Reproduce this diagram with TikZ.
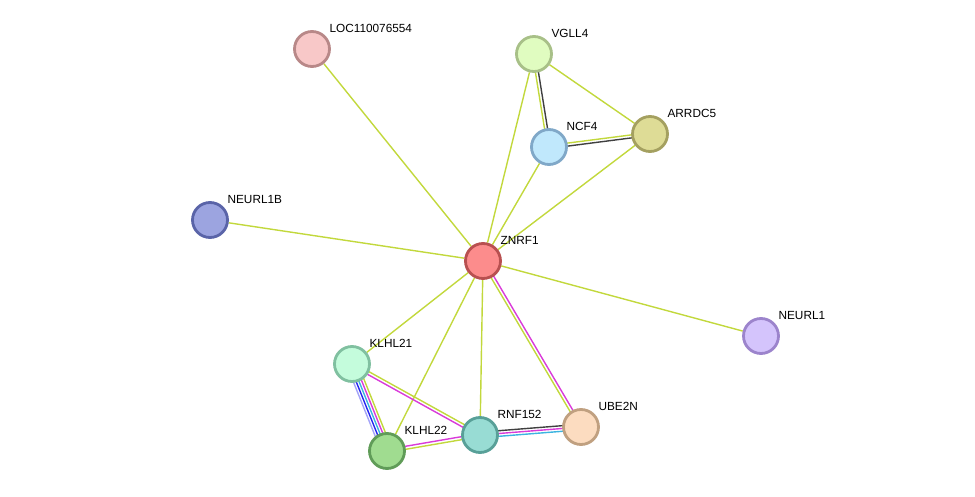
\documentclass[tikz,border=0pt]{standalone}
\usepackage{fontspec}
\setmainfont{Liberation Sans}
\usepackage{tikz}
\usetikzlibrary{calc,backgrounds}
\definecolor{yg}{HTML}{C2D83C}
\definecolor{mg}{HTML}{D93BD9}
\definecolor{bk}{HTML}{404040}
\definecolor{cy}{HTML}{3CB4E0}
\definecolor{bl}{HTML}{2424F0}
\definecolor{lv}{HTML}{A4A4F8}
% node fills and rims
\definecolor{znrfF}{HTML}{FC8C8C}\definecolor{znrfD}{HTML}{B85050}
\definecolor{locF}{HTML}{F8C8C8}\definecolor{locD}{HTML}{B88888}
\definecolor{vgllF}{HTML}{E0FCC0}\definecolor{vgllD}{HTML}{A8C088}
\definecolor{ncfF}{HTML}{C0E8FC}\definecolor{ncfD}{HTML}{80A8C8}
\definecolor{arrF}{HTML}{DEDC96}\definecolor{arrD}{HTML}{A4A060}
\definecolor{nbF}{HTML}{9CA4E0}\definecolor{nbD}{HTML}{5A64A8}
\definecolor{nF}{HTML}{D4C4FC}\definecolor{nD}{HTML}{9C84CC}
\definecolor{k21F}{HTML}{C4FCDC}\definecolor{k21D}{HTML}{80C0A0}
\definecolor{k22F}{HTML}{A0DC90}\definecolor{k22D}{HTML}{609C58}
\definecolor{rnfF}{HTML}{98DCD4}\definecolor{rnfD}{HTML}{58A098}
\definecolor{ubeF}{HTML}{FCDCC0}\definecolor{ubeD}{HTML}{C0A080}

\begin{document}
\begin{tikzpicture}[x=1pt,y=-1pt,
prot/.style={circle, fill=#1F, draw=#1D, line width=2.8pt,
    minimum size=35pt, inner sep=0pt},
plabel/.style={anchor=west, inner sep=0pt, xshift=-1.5pt, yshift=21pt,
    font=\fontsize{11.8}{13}\selectfont},
link/.style={line width=1.4pt}]
\useasboundingbox (0,0) rectangle (975,497);

\node[prot=znrf, label={[plabel]right:ZNRF1}] (znrf1) at (483,261) {};
\node[prot=loc, label={[plabel]right:LOC110076554}] (loc) at (312,49) {};
\node[prot=vgll, label={[plabel]right:VGLL4}] (vgll4) at (534,54) {};
\node[prot=ncf, label={[plabel]right:NCF4}] (ncf4) at (549,147) {};
\node[prot=arr, label={[plabel]right:ARRDC5}] (arrdc5) at (650,134) {};
\node[prot=nb, label={[plabel]right:NEURL1B}] (neurl1b) at (210,220) {};
\node[prot=n, label={[plabel]right:NEURL1}] (neurl1) at (761,336) {};
\node[prot=k21, label={[plabel]right:KLHL21}] (klhl21) at (352,364) {};
\node[prot=k22, label={[plabel]right:KLHL22}] (klhl22) at (387,451) {};
\node[prot=rnf, label={[plabel]right:RNF152}] (rnf152) at (480,435) {};
\node[prot=ube, label={[plabel]right:UBE2N}] (ube2n) at (581,427) {};

\begin{scope}[on background layer]
% single links
\foreach \p in {loc,vgll4,ncf4,arrdc5,neurl1b,neurl1,klhl21,klhl22,rnf152}
  \draw[link,yg] (znrf1) -- (\p);
\draw[link,yg] (vgll4) -- (arrdc5);
% multiple links
\foreach \o/\c in {-1.5pt/yg, 1.5pt/mg}
  \draw[link,\c] ($(znrf1.center)!\o!90:(ube2n.center)$) -- ($(ube2n.center)!\o!-90:(znrf1.center)$);
\foreach \o/\c in {-1.5pt/yg, 1.5pt/bk}
  \draw[link,\c] ($(vgll4.center)!\o!90:(ncf4.center)$) -- ($(ncf4.center)!\o!-90:(vgll4.center)$);
\foreach \o/\c in {1.5pt/yg, -1.5pt/bk}
  \draw[link,\c] ($(ncf4.center)!\o!90:(arrdc5.center)$) -- ($(arrdc5.center)!\o!-90:(ncf4.center)$);
\foreach \o/\c in {-5.4pt/lv, -2.7pt/bl, 0pt/cy, 2.7pt/mg, 5.4pt/yg}
  \draw[link,\c] ($(klhl21.center)!\o!90:(klhl22.center)$) -- ($(klhl22.center)!\o!-90:(klhl21.center)$);
\foreach \o/\c in {1.5pt/yg, -1.5pt/mg}
  \draw[link,\c] ($(klhl21.center)!\o!90:(rnf152.center)$) -- ($(rnf152.center)!\o!-90:(klhl21.center)$);
\foreach \o/\c in {-1.5pt/yg, 1.5pt/mg}
  \draw[link,\c] ($(klhl22.center)!\o!90:(rnf152.center)$) -- ($(rnf152.center)!\o!-90:(klhl22.center)$);
\foreach \o/\c in {2.8pt/bk, 0pt/mg, -2.8pt/cy}
  \draw[link,\c] ($(rnf152.center)!\o!90:(ube2n.center)$) -- ($(ube2n.center)!\o!-90:(rnf152.center)$);
\end{scope}
\end{tikzpicture}
\end{document}
